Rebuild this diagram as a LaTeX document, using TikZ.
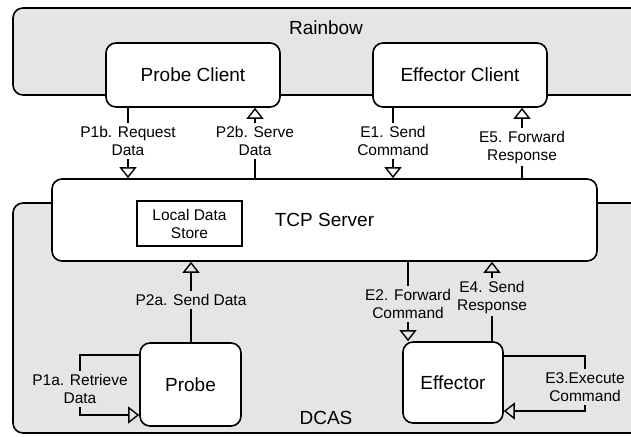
\documentclass[tikz,border=0pt]{standalone}
\usepackage{fontspec}
\setmainfont{Liberation Sans}
\usetikzlibrary{arrows.meta}
\definecolor{paneGray}{RGB}{229,229,229}

\begin{document}
\begin{tikzpicture}[x=1pt,y=-1pt,
        pane/.style={draw,line width=1.6pt,rounded corners=10pt,fill=paneGray},
        comp/.style={rectangle,draw,line width=1.6pt,rounded corners=10pt,fill=white,font=\fontsize{19}{22}\selectfont},
        big/.style={font=\fontsize{19}{22}\selectfont},
        lbl/.style={align=center,inner sep=3pt,font=\fontsize{15.5}{18}\selectfont},
        conn/.style={line width=1.4pt},
        tip/.style={conn,-{Triangle[open,width=17pt,length=11pt,line width=1.4pt]}}]
        \useasboundingbox (0,0) rectangle (631,436);
        \clip (0,0) rectangle (631,436);
        % outer panes
        \draw[pane] (13,8) rectangle (660,95);
        \draw[pane] (13,203) rectangle (660,433);
        \node[big] (rb) at (326,28) {Rainbow};
        \node[big] (dc) at (326,418) {DCAS};
        % components
        \node[comp,minimum width=174pt,minimum height=64pt] (PC) at (193,75) {Probe Client};
        \node[comp,minimum width=174pt,minimum height=64pt] (EC) at (460,75) {Effector Client};
        \node[comp,minimum width=545pt,minimum height=82pt] (TCP) at (324.5,220) {TCP Server};
        \node[rectangle,draw,line width=1.4pt,fill=white,lbl,minimum width=105pt,minimum height=45pt] (LDS) at (189.5,223.5) {Local Data\\Store};
        \node[comp,minimum width=101pt,minimum height=83pt] (Pr) at (190.5,384.5) {Probe};
        \node[comp,minimum width=100pt,minimum height=81pt] (Ef) at (453,382.5) {Effector};
        % labels
        \node[lbl] (P1b) at (128,141) {P1b. Request\\Data};
        \node[lbl] (P2b) at (255,141) {P2b. Serve\\Data};
        \node[lbl] (E1) at (393,141) {E1. Send\\Command};
        \node[lbl] (E5) at (522,147) {E5. Forward\\Response};
        \node[lbl] (P2a) at (191,300) {P2a. Send Data};
        \node[lbl] (E2) at (408,304) {E2. Forward\\Command};
        \node[lbl] (E4) at (492,297) {E4. Send\\Response};
        \node[lbl] (P1a) at (80,389) {P1a. Retrieve\\Data};
        \node[lbl] (E3) at (585,387) {E3.Execute\\Command};
        % connectors
        \draw[conn] (PC.south -| P1b) -- (P1b.north);
        \draw[tip] (P1b.south) -- (P1b.south |- TCP.north);
        \draw[tip] (P2b.north) -- (P2b.north |- PC.south);
        \draw[conn] (P2b.south) -- (P2b.south |- TCP.north);
        \draw[conn] (EC.south -| E1) -- (E1.north);
        \draw[tip] (E1.south) -- (E1.south |- TCP.north);
        \draw[tip] (E5.north) -- (E5.north |- EC.south);
        \draw[conn] (E5.south) -- (E5.south |- TCP.north);
        \draw[tip] (P2a.north) -- (P2a.north |- TCP.south);
        \draw[conn] (Pr.north -| P2a) -- (P2a.south);
        \draw[conn] (TCP.south -| E2) -- (E2.north);
        \draw[tip] (E2.south) -- (E2.south |- Ef.north);
        \draw[tip] (E4.north) -- (E4.north |- TCP.south);
        \draw[conn] (Ef.north -| E4) -- (E4.south);
        \draw[conn] (Pr.west |- 0,355) -| (P1a.north);
        \draw[tip] (P1a.south) |- (Pr.west |- 0,415);
        \draw[conn] (Ef.east |- 0,356) -| (E3.north);
        \draw[tip] (E3.south) |- (Ef.east |- 0,411);
\end{tikzpicture}
\end{document}
